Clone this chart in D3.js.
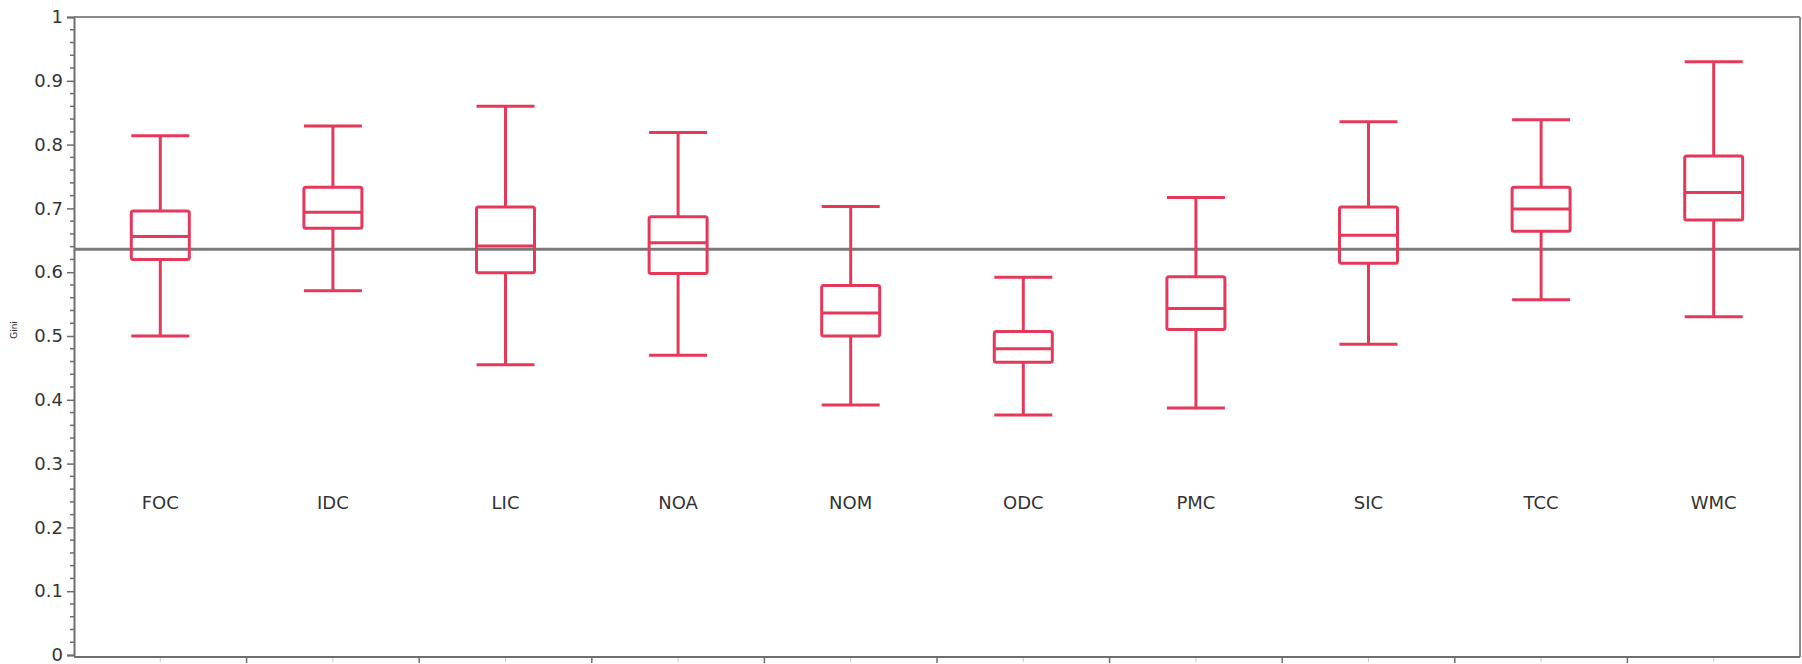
<!DOCTYPE html>
<html>
<head>
<meta charset="utf-8">
<script src="https://cdn.jsdelivr.net/npm/d3@7/dist/d3.min.js"></script>
<style>
  html, body { margin: 0; padding: 0; background: #fff; }
  svg { display: block; }
  text { font-family: "DejaVu Sans", Verdana, sans-serif; fill: #333; }
</style>
</head>
<body>
<svg id="chart" width="1802" height="664"></svg>
<script>
// Gini distribution per class group
const categories   = ["FOC", "IDC", "LIC", "NOA", "NOM", "ODC", "PMC", "SIC", "TCC", "WMC"];
const whiskerLow   = [0.500, 0.571, 0.455, 0.470, 0.392, 0.376, 0.387, 0.487, 0.557, 0.530];
const q1           = [0.620, 0.669, 0.599, 0.598, 0.500, 0.459, 0.510, 0.614, 0.664, 0.682];
const median       = [0.656, 0.694, 0.641, 0.646, 0.536, 0.480, 0.543, 0.658, 0.699, 0.725];
const q3           = [0.696, 0.733, 0.702, 0.687, 0.579, 0.507, 0.593, 0.702, 0.733, 0.782];
const whiskerHigh  = [0.814, 0.829, 0.860, 0.819, 0.703, 0.592, 0.717, 0.836, 0.839, 0.930];
const overallGini  = 0.636;
const yTickValues  = [0, 0.1, 0.2, 0.3, 0.4, 0.5, 0.6, 0.7, 0.8, 0.9, 1];
const yTickLabels  = ["0", "0.1", "0.2", "0.3", "0.4", "0.5", "0.6", "0.7", "0.8", "0.9", "1"];

const boxes = categories.map((c, i) => ({
  name: c, lo: whiskerLow[i], q1: q1[i], med: median[i], q3: q3[i], hi: whiskerHigh[i]
}));

const svg = d3.select("#chart");
const plotLeft = 74, plotRight = 1800, plotTop = 17, plotBottom = 655;
const boxColor = "#e5395b";
const axisColor = "#6e6e6e";

const x = d3.scaleBand().domain(categories).range([plotLeft, plotRight]).padding(0);
const y = d3.scaleLinear().domain([0, 1]).range([plotBottom, plotTop]);

const root = svg.append("g");

// frame: top and right borders
root.append("line").attr("x1", plotLeft).attr("x2", plotRight).attr("y1", y(1)).attr("y2", y(1))
  .attr("stroke", "#8a8a8a").attr("stroke-width", 2);
root.append("line").attr("x1", plotRight).attr("x2", plotRight).attr("y1", y(1)).attr("y2", plotBottom + 2)
  .attr("stroke", "#8a8a8a").attr("stroke-width", 2);

// minor ticks on the value axis
const minor = d3.range(0, 1.0001, 0.02).filter(v => Math.abs(v * 10 - Math.round(v * 10)) > 1e-6);
root.append("g").selectAll("line").data(minor).join("line")
  .attr("x1", plotLeft - 4).attr("x2", plotLeft).attr("y1", d => y(d)).attr("y2", d => y(d))
  .attr("stroke", axisColor).attr("stroke-width", 1.5);

// value axis
const yAxis = d3.axisLeft(y).tickValues(yTickValues)
  .tickFormat((d, i) => yTickLabels[i]).tickSize(7).tickPadding(4);
const yg = root.append("g").attr("transform", `translate(${plotLeft},0)`).call(yAxis);
yg.select(".domain").attr("stroke", axisColor).attr("stroke-width", 2);
yg.selectAll(".tick line").attr("stroke", axisColor).attr("stroke-width", 1.5);
yg.selectAll(".tick text").attr("font-size", 18).attr("fill", "#333")
  .attr("font-family", "DejaVu Sans, Verdana, sans-serif");

// axis title
root.append("text").attr("transform", `translate(17,330) rotate(-90)`)
  .attr("text-anchor", "middle").attr("font-size", 9).attr("fill", "#444").text("Gini");

// category axis along the bottom
root.append("line").attr("x1", plotLeft).attr("x2", plotRight).attr("y1", plotBottom + 2).attr("y2", plotBottom + 2)
  .attr("stroke", axisColor).attr("stroke-width", 2);
const boundaries = categories.slice(1).map(c => x(c));
root.append("g").selectAll("line").data(boundaries).join("line")
  .attr("x1", d => d).attr("x2", d => d).attr("y1", plotBottom + 2).attr("y2", plotBottom + 8)
  .attr("stroke", axisColor).attr("stroke-width", 1.5);
root.append("g").selectAll("line").data(categories).join("line")
  .attr("x1", d => x(d) + x.bandwidth() / 2).attr("x2", d => x(d) + x.bandwidth() / 2)
  .attr("y1", plotBottom + 3).attr("y2", plotBottom + 7)
  .attr("stroke", "#c8c8c8").attr("stroke-width", 1);

// overall reference line
root.append("line").attr("x1", plotLeft).attr("x2", plotRight)
  .attr("y1", y(overallGini)).attr("y2", y(overallGini))
  .attr("stroke", "#7a7a7a").attr("stroke-width", 3);

// boxplots
const bw = x.bandwidth() * 0.336;
const g = root.append("g").selectAll("g").data(boxes).join("g")
  .attr("transform", d => `translate(${x(d.name) + x.bandwidth() / 2},0)`)
  .attr("stroke", boxColor).attr("stroke-width", 3).attr("fill", "none");

g.append("line").attr("x1", 0).attr("x2", 0).attr("y1", d => y(d.hi)).attr("y2", d => y(d.q3));
g.append("line").attr("x1", 0).attr("x2", 0).attr("y1", d => y(d.q1)).attr("y2", d => y(d.lo));
g.append("line").attr("x1", -bw / 2).attr("x2", bw / 2).attr("y1", d => y(d.hi)).attr("y2", d => y(d.hi));
g.append("line").attr("x1", -bw / 2).attr("x2", bw / 2).attr("y1", d => y(d.lo)).attr("y2", d => y(d.lo));
g.append("rect").attr("x", -bw / 2).attr("width", bw)
  .attr("y", d => y(d.q3)).attr("height", d => y(d.q1) - y(d.q3))
  .attr("rx", 2).attr("fill", "none");
g.append("line").attr("x1", -bw / 2).attr("x2", bw / 2).attr("y1", d => y(d.med)).attr("y2", d => y(d.med));

// category labels inside the plot
root.append("g").selectAll("text").data(categories).join("text")
  .attr("x", d => x(d) + x.bandwidth() / 2).attr("y", 503)
  .attr("dy", "0.36em").attr("text-anchor", "middle").attr("font-size", 18).attr("fill", "#222")
  .text(d => d);
</script>
</body>
</html>
